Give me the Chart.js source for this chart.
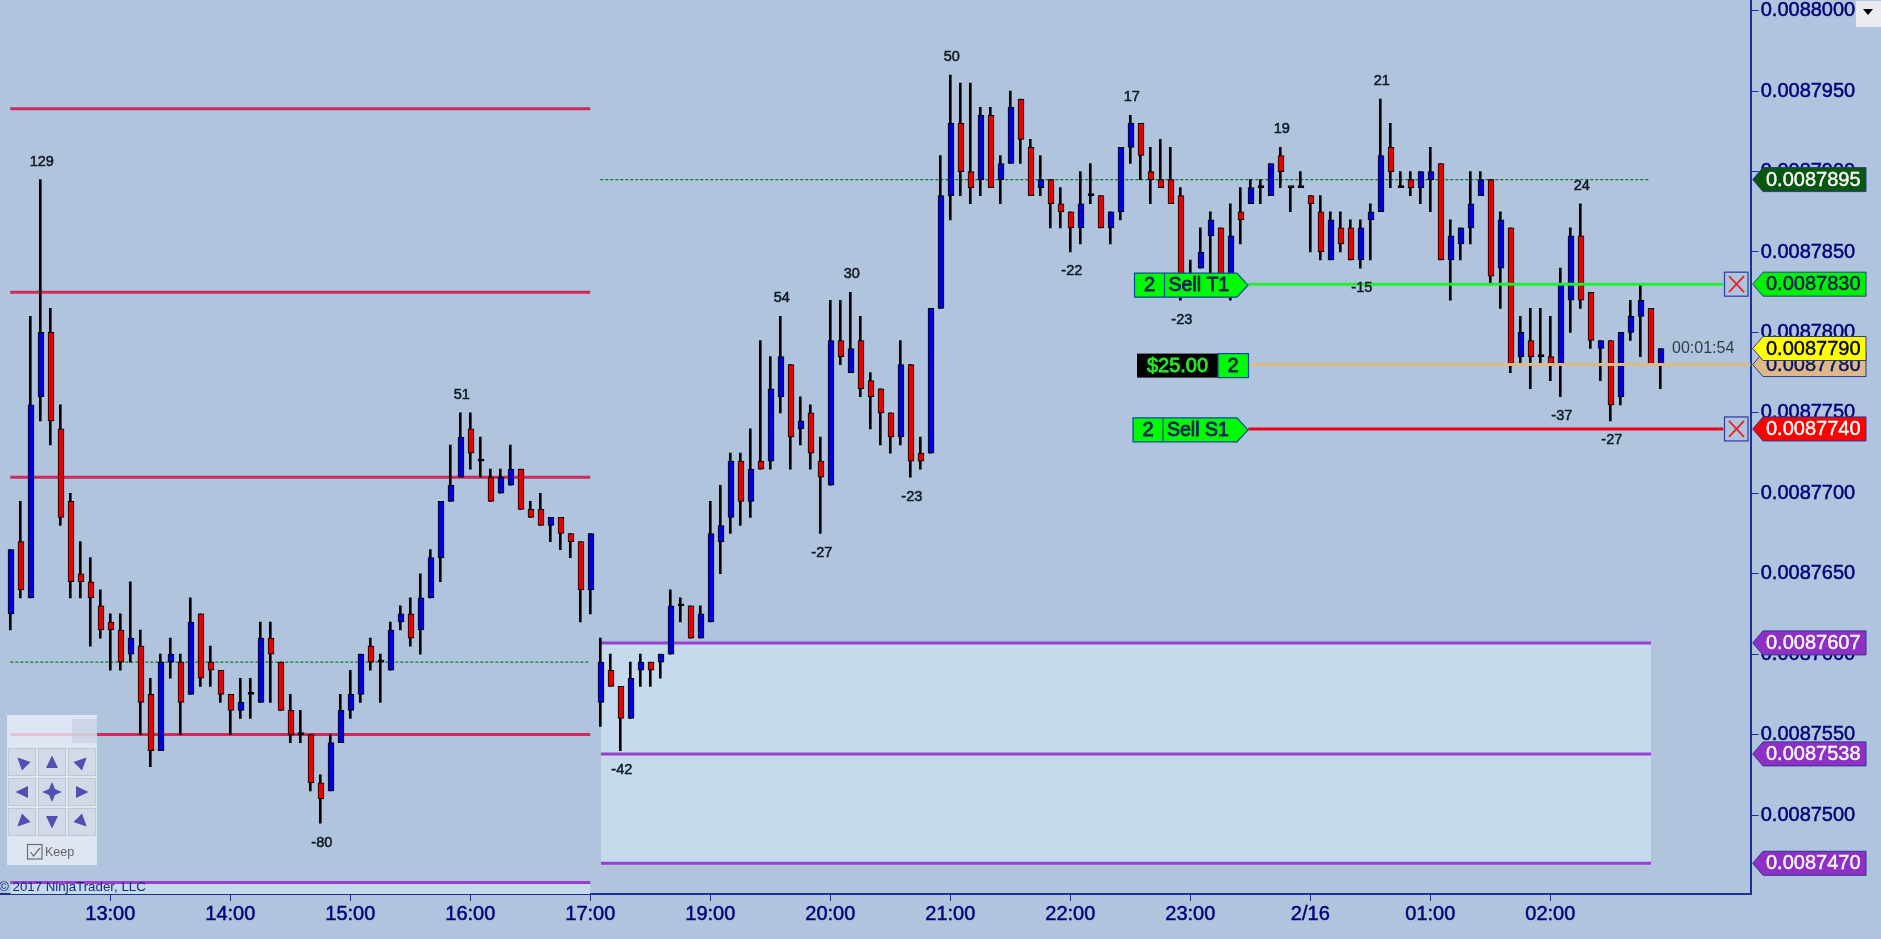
<!DOCTYPE html>
<html>
<head>
<meta charset="utf-8">
<title>NinjaTrader chart</title>
<script src="https://cdn.jsdelivr.net/npm/chart.js@4"></script>
<style>
  html, body { margin: 0; padding: 0; background: #b0c4de; overflow: hidden; }
  canvas { display: block; }
</style>
</head>
<body>
<canvas id="chart" width="1881" height="939"></canvas>
<script>
// prices are in units of 0.0000001 (87650 = 0.0087650), one bar every 5 minutes
const opens = [
  87625,87670,87635,87760,87800,87740,87695,87650,87645,87630,
  87620,87615,87600,87605,87575,87540,87595,87595,87575,87625,
  87595,87590,87575,87565,87575,87570,87610,87595,87565,87550,
  87550,87520,87515,87545,87565,87575,87605,87595,87590,87620,
  87625,87615,87635,87660,87695,87710,87740,87720,87710,87700,
  87705,87715,87690,87690,87680,87685,87675,87670,87640,87570,
  87590,87580,87560,87590,87595,87595,87600,87630,87630,87610,
  87620,87670,87685,87720,87695,87720,87720,87760,87780,87740,
  87750,87720,87705,87795,87775,87795,87770,87765,87750,87735,
  87780,87725,87725,87815,87885,87930,87900,87895,87935,87895,
  87905,87945,87915,87890,87895,87880,87875,87865,87885,87885,
  87865,87875,87915,87930,87900,87895,87895,87885,87825,87840,
  87860,87865,87825,87875,87880,87890,87885,87910,87890,87890,
  87885,87875,87845,87865,87865,87845,87870,87875,87915,87890,
  87895,87890,87895,87905,87845,87855,87865,87885,87895,87840,
  87865,87785,87795,87785,87785,87780,87820,87860,87825,87790,
  87795,87760,87800,87810,87815,87780
];
const highs = [
  87665,87695,87810,87895,87815,87755,87700,87670,87660,87640,
  87625,87625,87645,87615,87585,87600,87610,87600,87635,87625,
  87605,87590,87575,87585,87585,87620,87620,87595,87575,87565,
  87550,87525,87550,87575,87590,87600,87610,87600,87620,87630,
  87635,87650,87665,87695,87730,87750,87750,87735,87715,87715,
  87730,87715,87695,87700,87685,87685,87675,87670,87675,87610,
  87600,87580,87595,87600,87595,87600,87640,87635,87630,87630,
  87695,87705,87725,87725,87740,87795,87785,87810,87780,87760,
  87755,87735,87820,87820,87825,87810,87775,87765,87750,87795,
  87780,87735,87815,87910,87960,87955,87955,87940,87940,87910,
  87950,87945,87920,87910,87895,87890,87875,87900,87905,87885,
  87875,87915,87935,87930,87915,87920,87915,87890,87845,87865,
  87875,87865,87880,87890,87895,87895,87905,87915,87890,87900,
  87885,87885,87875,87875,87870,87870,87880,87945,87930,87900,
  87900,87900,87915,87905,87870,87865,87900,87900,87895,87875,
  87865,87810,87815,87815,87810,87840,87865,87880,87825,87795,
  87795,87800,87820,87830,87815,87790
];
const lows = [
  87615,87635,87635,87745,87730,87680,87635,87635,87605,87610,
  87590,87590,87595,87550,87530,87540,87585,87550,87575,87580,
  87580,87570,87550,87560,87560,87570,87570,87565,87545,87545,
  87515,87495,87515,87545,87560,87570,87590,87570,87590,87615,
  87605,87600,87635,87645,87695,87710,87715,87710,87695,87700,
  87705,87690,87685,87680,87670,87665,87660,87620,87625,87555,
  87580,87540,87560,87580,87580,87585,87600,87620,87610,87610,
  87620,87650,87675,87680,87685,87715,87715,87750,87715,87730,
  87715,87675,87705,87780,87775,87760,87740,87730,87725,87730,
  87710,87715,87725,87815,87870,87885,87880,87885,87890,87880,
  87905,87905,87885,87885,87865,87865,87850,87855,87880,87865,
  87855,87870,87905,87895,87880,87890,87880,87820,87825,87840,
  87830,87830,87820,87855,87880,87880,87885,87890,87875,87890,
  87850,87845,87845,87850,87845,87840,87845,87875,87890,87890,
  87885,87880,87875,87845,87820,87845,87855,87885,87830,87815,
  87775,87780,87765,87780,87770,87760,87800,87815,87790,87770,
  87745,87755,87795,87785,87780,87765
];
const closes = [
  87665,87640,87755,87800,87745,87685,87645,87645,87635,87615,
  87615,87595,87610,87570,87540,87595,87600,87570,87620,87585,
  87590,87575,87565,87570,87575,87610,87600,87565,87550,87550,
  87520,87510,87545,87565,87575,87600,87595,87595,87615,87625,
  87610,87635,87660,87695,87705,87735,87725,87720,87695,87710,
  87715,87690,87685,87680,87685,87675,87670,87640,87675,87595,
  87580,87560,87585,87595,87590,87600,87630,87630,87610,87625,
  87675,87680,87720,87695,87715,87715,87765,87785,87735,87745,
  87725,87710,87795,87785,87790,87765,87760,87750,87735,87780,
  87720,87720,87815,87885,87930,87900,87890,87935,87890,87905,
  87940,87920,87885,87895,87880,87875,87865,87880,87885,87865,
  87875,87915,87930,87910,87895,87890,87880,87825,87830,87850,
  87870,87830,87860,87870,87890,87890,87905,87900,87890,87890,
  87880,87850,87870,87855,87845,87865,87875,87910,87900,87890,
  87890,87900,87900,87845,87860,87865,87880,87895,87835,87870,
  87780,87800,87785,87785,87780,87830,87860,87820,87795,87795,
  87755,87800,87810,87820,87780,87790
];

const xTickBars = [10, 22, 34, 46, 58, 70, 82, 94, 106, 118, 130, 142, 154];
const xTickLabels = ['13:00','14:00','15:00','16:00','17:00','19:00','20:00','21:00','22:00','23:00','2/16','01:00','02:00'];
const yTicks = [88000,87950,87900,87850,87800,87750,87700,87650,87600,87550,87500];

// swing counts written above highs / below lows
const swingBars = [3, 45, 77, 84, 94, 112, 127, 137, 157];
const swingHighLabels = ['129','51','54','30','50','17','19','21','24'];
const swingLowBars = [31, 61, 81, 90, 106, 117, 135, 155, 160];
const swingLowLabels = ['-80','-42','-27','-23','-22','-23','-15','-37','-27'];

const redLevels = [87939, 87825, 87710, 87550];
const purpleLevels = [87607, 87538, 87470];
const prevPurpleLevel = 87458;
const pivotLeft = 87595;
const pivotRight = 87895;
const targetPrice = 87830;
const stopPrice = 87740;
const entryPrice = 87780;

const tagPrices = [87895, 87830, 87780, 87790, 87740, 87607, 87538, 87470];
const tagFills = ['#07570f','#00f000','#deb887','#ffff00','#ff0000','#8e2fc6','#8e2fc6','#8e2fc6'];
const tagTexts = ['#ffffff','#06125a','#06125a','#000020','#ffffff','#ffffff','#ffffff','#ffffff'];

const FONT = '"Liberation Sans", Arial, sans-serif';
const BLUE = '#0000dc', RED = '#e60000';

const xMin = -1.03, xMax = 174.04;
const yMin = 87450.9, yMax = 88006.65;

function level(y, from, to, color, width, extra) {
    return Object.assign({
        type: 'line',
        data: [{ x: from, y: y }, { x: to, y: y }],
        borderColor: color,
        borderWidth: width,
        pointRadius: 0,
        order: 5
    }, extra || {});
}

const bodyColors = opens.map((o, i) => closes[i] > o ? BLUE : closes[i] < o ? RED : '#000000');

const datasets = [
    { type: 'bar', label: 'wick', data: highs.map((h, i) => ({ x: i, y: [lows[i], h] })),
      backgroundColor: '#000000', barThickness: 2, grouped: false, order: 2 },
    { type: 'bar', label: 'body', xAxisID: 'xb', data: opens.map((o, i) => ({ x: i, y: [o, closes[i]] })),
      backgroundColor: bodyColors, borderColor: '#000000', borderWidth: 1, borderSkipped: false,
      barThickness: 6, minBarLength: 2, grouped: false, order: 1 },
    level(purpleLevels[0], 59.07, 164.07, '#9a3fd0', 3, { fill: { value: purpleLevels[2] }, backgroundColor: '#c5daec', order: 6 }),
    level(purpleLevels[1], 59.07, 164.07, '#9a3fd0', 3),
    level(purpleLevels[2], 59.07, 164.07, '#9a3fd0', 3),
    level(prevPurpleLevel, 0, 58, '#9a3fd0', 3, { fill: 'start', backgroundColor: '#c5daec', order: 6 }),
    level(pivotLeft, 0, 58, '#0f7a2a', 1.2, { borderDash: [3, 2] }),
    level(pivotRight, 59, 164, '#0f7a2a', 1.2, { borderDash: [3, 2] }),
    level(targetPrice, 123.8, 171.3, '#22ee33', 3, { order: 0 }),
    level(entryPrice, 123.8, xMax, '#deb887', 3, { order: 0 }),
    level(stopPrice, 123.8, 171.3, '#f00018', 3, { order: 0 })
];
redLevels.forEach(v => datasets.push(level(v, 0, 58, '#cf2a5b', 3)));

function poly(ctx, pts) {
    ctx.beginPath();
    pts.forEach((p, i) => i ? ctx.lineTo(p[0], p[1]) : ctx.moveTo(p[0], p[1]));
    ctx.closePath();
}

function text(ctx, str, x, y, font, color, align, heavy) {
    ctx.font = font;
    ctx.fillStyle = color;
    ctx.textAlign = align || 'left';
    ctx.textBaseline = 'middle';
    if (heavy) {
        ctx.strokeStyle = color;
        ctx.lineWidth = heavy;
        ctx.strokeText(str, x, y);
    }
    ctx.fillText(str, x, y);
}

function drawSwings(ctx, xs, ys) {
    const f = '14.5px ' + FONT;
    swingBars.forEach((b, i) => text(ctx, swingHighLabels[i], xs.getPixelForValue(b) + 1.5, ys.getPixelForValue(highs[b]) - 18, f, '#101820', 'center', 0.5));
    swingLowBars.forEach((b, i) => text(ctx, swingLowLabels[i], xs.getPixelForValue(b) + 1.5, ys.getPixelForValue(lows[b]) + 19.5, f, '#101820', 'center', 0.5));
}

function drawOrderTag(ctx, y, label, left, divider) {
    const h = 12, tip = 1248;
    poly(ctx, [[left, y - h], [tip - 11, y - h], [tip, y], [tip - 11, y + h], [left, y + h]]);
    ctx.fillStyle = '#00fa00';
    ctx.fill();
    ctx.strokeStyle = '#0a4a9a';
    ctx.lineWidth = 1.2;
    ctx.stroke();
    ctx.beginPath();
    ctx.moveTo(divider, y - h);
    ctx.lineTo(divider, y + h);
    ctx.stroke();
    text(ctx, '2', (left + divider) / 2, y + 0.5, '20px ' + FONT, '#06205a', 'center', 0.8);
    text(ctx, label, divider + 4, y + 0.5, '19.5px ' + FONT, '#06205a', 'left', 0.8);
}

function drawPnl(ctx, y) {
    ctx.fillStyle = '#000000';
    ctx.fillRect(1137, y - 12, 81, 24);
    ctx.fillStyle = '#00fa00';
    ctx.fillRect(1218, y - 12, 30.5, 24);
    ctx.strokeStyle = '#0a4a9a';
    ctx.lineWidth = 1.2;
    ctx.strokeRect(1218, y - 12, 30.5, 24);
    text(ctx, '$25.00', 1177.5, y + 0.5, '20px ' + FONT, '#22ee22', 'center', 0.8);
    text(ctx, '2', 1233, y + 0.5, '20px ' + FONT, '#06205a', 'center', 0.8);
}

function drawCloseBox(ctx, y) {
    ctx.fillStyle = '#b0c4de';
    ctx.fillRect(1724.5, y - 12, 23.5, 24);
    ctx.strokeStyle = '#2a3ca0';
    ctx.lineWidth = 1.2;
    ctx.strokeRect(1724.5, y - 12, 23.5, 24);
    ctx.strokeStyle = '#ee2020';
    ctx.lineWidth = 1.8;
    ctx.beginPath();
    ctx.moveTo(1729, y - 8);
    ctx.lineTo(1744, y + 8);
    ctx.moveTo(1744, y - 8);
    ctx.lineTo(1729, y + 8);
    ctx.stroke();
}

function drawPriceTags(ctx, ys) {
    tagPrices.forEach((p, i) => {
        const y = ys.getPixelForValue(p);
        poly(ctx, [[1752.7, y], [1763, y - 12], [1866, y - 12], [1866, y + 12], [1763, y + 12]]);
        ctx.fillStyle = tagFills[i];
        ctx.fill();
        ctx.strokeStyle = '#2a3a8c';
        ctx.lineWidth = 1;
        ctx.stroke();
        text(ctx, '0.00' + p, 1766, y + 0.5, '20px ' + FONT, tagTexts[i], 'left', 0.4);
    });
}

function drawArrow(ctx, cx, cy, deg) {
    ctx.save();
    ctx.translate(cx, cy);
    ctx.rotate(deg * Math.PI / 180);
    poly(ctx, [[0, -6.5], [6, 6], [-6, 6]]);
    ctx.fill();
    ctx.restore();
}

function drawNavPanel(ctx) {
    ctx.fillStyle = 'rgba(236,240,248,0.78)';
    ctx.fillRect(7, 715, 90, 150);
    ctx.fillStyle = 'rgba(190,198,214,0.5)';
    ctx.fillRect(72, 719, 25, 24);
    const cols = [22, 52, 82], rows = [762, 792, 822];
    const angles = [[-45, 0, 45], [-90, null, 90], [-135, 180, 135]];
    rows.forEach((cy, r) => cols.forEach((cx, c) => {
        ctx.fillStyle = '#d3dae7';
        ctx.fillRect(cx - 13.5, cy - 13.5, 27, 27);
        ctx.strokeStyle = '#bfc6d3';
        ctx.lineWidth = 1;
        ctx.strokeRect(cx - 13.5, cy - 13.5, 27, 27);
        ctx.fillStyle = '#5050b0';
        if (angles[r][c] === null) {
            poly(ctx, [[cx, cy - 10], [cx + 3, cy - 3], [cx + 10, cy], [cx + 3, cy + 3], [cx, cy + 10], [cx - 3, cy + 3], [cx - 10, cy], [cx - 3, cy - 3]]);
            ctx.fill();
        } else {
            drawArrow(ctx, cx, cy, angles[r][c]);
        }
    }));
    ctx.strokeStyle = '#6c6c6c';
    ctx.lineWidth = 1.2;
    ctx.strokeRect(27.5, 844.5, 14.5, 14.5);
    ctx.beginPath();
    ctx.moveTo(30.5, 852);
    ctx.lineTo(33.5, 856);
    ctx.lineTo(40, 848);
    ctx.stroke();
    text(ctx, 'Keep', 45, 852.5, '12.5px ' + FONT, '#666666');
}

function drawMenuButton(ctx) {
    ctx.fillStyle = '#e9ebf1';
    ctx.fillRect(1856, 1, 25, 26);
    ctx.fillStyle = '#000000';
    poly(ctx, [[1863, 9], [1873, 9], [1868, 15]]);
    ctx.fill();
}

const overlays = {
    id: 'overlays',
    afterDraw(chart) {
        const ctx = chart.ctx, xs = chart.scales.x, ys = chart.scales.y;
        ctx.save();
        drawSwings(ctx, xs, ys);
        drawOrderTag(ctx, ys.getPixelForValue(targetPrice) + 1, 'Sell T1', 1134.5, 1164.5);
        drawPnl(ctx, ys.getPixelForValue(entryPrice) + 1);
        drawOrderTag(ctx, ys.getPixelForValue(stopPrice) + 1, 'Sell S1', 1133, 1163);
        drawCloseBox(ctx, ys.getPixelForValue(targetPrice));
        drawCloseBox(ctx, ys.getPixelForValue(stopPrice));
        text(ctx, '00:01:54', 1672, 349, '16px ' + FONT, '#333a44');
        drawPriceTags(ctx, ys);
        drawNavPanel(ctx);
        text(ctx, '\u00a9 2017 NinjaTrader, LLC', -1, 887, '13.3px ' + FONT, '#1a2a80');
        drawMenuButton(ctx);
        ctx.restore();
    }
};

new Chart(document.getElementById('chart'), {
    type: 'bar',
    data: { datasets: datasets },
    options: {
        responsive: false,
        animation: false,
        devicePixelRatio: 1,
        layout: { padding: 0, autoPadding: false },
        plugins: { legend: { display: false }, tooltip: { enabled: false } },
        scales: {
            x: {
                type: 'linear', min: xMin, max: xMax, offset: false,
                grid: { drawOnChartArea: false, offset: false, color: '#1c2f9a', tickLength: 7 },
                border: { color: '#1c2f9a', width: 2 },
                afterBuildTicks: s => { s.ticks = xTickBars.map(v => ({ value: v })); },
                afterFit: s => { s.height = 45; s.paddingLeft = 0; s.paddingRight = 0; },
                ticks: {
                    autoSkip: false, maxRotation: 0, padding: 1, color: '#00007a',
                    textStrokeColor: '#00007a', textStrokeWidth: 0.5,
                    font: { family: FONT, size: 20 },
                    callback: v => xTickLabels[xTickBars.indexOf(v)]
                }
            },
            xb: {
                type: 'linear', display: false, min: xMin - 0.07, max: xMax - 0.07, offset: false,
                grid: { offset: false }
            },
            y: {
                position: 'right', min: yMin, max: yMax,
                grid: { drawOnChartArea: false, color: '#1c2f9a', tickLength: 8 },
                border: { color: '#1c2f9a', width: 2 },
                afterBuildTicks: s => { s.ticks = yTicks.map(v => ({ value: v })); },
                afterFit: s => { s.width = 130.3; s.paddingTop = 0; s.paddingBottom = 0; },
                ticks: {
                    padding: 2, color: '#00007a',
                    textStrokeColor: '#00007a', textStrokeWidth: 0.5,
                    font: { family: FONT, size: 20 },
                    callback: v => '0.00' + v
                }
            }
        }
    },
    plugins: [overlays]
});
</script>
</body>
</html>
